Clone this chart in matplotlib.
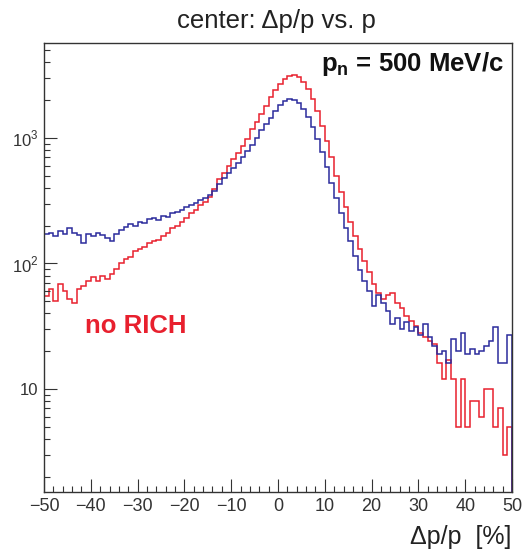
import numpy as np
import matplotlib
matplotlib.use('Agg')
import matplotlib.pyplot as plt
from matplotlib.ticker import FixedLocator, MultipleLocator, NullFormatter

plt.rcParams['font.family'] = ['Liberation Sans', 'DejaVu Sans']
plt.rcParams['mathtext.fontset'] = 'custom'
plt.rcParams['mathtext.rm'] = 'Liberation Sans'
plt.rcParams['mathtext.bf'] = 'Liberation Sans:bold'

# histogram binning: 100 bins of 1 % from -50 to 50
edges = np.arange(-50, 51, 1)

# "no RICH" (red)
red_counts = [55, 62, 50, 68, 60, 52, 48, 62, 66, 72,
              78, 72, 80, 75, 82, 90, 100, 108, 112, 125,
              130, 136, 145, 150, 155, 165, 175, 190, 200, 215,
              230, 250, 265, 290, 310, 340, 390, 470, 530, 600,
              680, 760, 860, 980, 1180, 1350, 1550, 1800, 2100, 2400,
              2700, 2950, 3100, 3150, 3050, 2800, 2450, 2050, 1650, 1250,
              950, 700, 500, 370, 280, 215, 165, 130, 105, 85,
              68, 58, 52, 56, 58, 48, 44, 38, 35, 32,
              28, 26, 24, 23, 16, 12, 17, 12, 5, 12,
              5, 8, 8, 6, 10, 10, 5, 7, 3, 5]

# with RICH (blue)
blue_counts = [170, 175, 165, 180, 172, 190, 175, 168, 145, 170,
               165, 175, 168, 160, 150, 170, 185, 195, 205, 200,
               215, 210, 225, 230, 222, 240, 235, 250, 255, 265,
               280, 290, 305, 320, 335, 350, 375, 430, 480, 530,
               580, 630, 700, 780, 870, 1000, 1150, 1300, 1450, 1650,
               1820, 1950, 2030, 2020, 1900, 1700, 1480, 1230, 980, 770,
               590, 440, 330, 250, 190, 150, 115, 88, 72, 60,
               46, 56, 48, 42, 33, 37, 30, 34, 29, 31,
               27, 33, 26, 22, 19, 20, 16, 25, 20, 28,
               19, 21, 19, 20, 22, 24, 31, 16, 16, 27]

fig = plt.figure(figsize=(5.26, 5.53), dpi=100)
ax = fig.add_axes([0.0837, 0.1103, 0.8897, 0.8119])

ax.stairs(red_counts, edges, color='#e8202e', lw=1.1)
ax.stairs(blue_counts, edges, color='#2b2b9c', lw=1.1)

ax.set_yscale('log')
ax.set_xlim(-50, 50)
ax.set_ylim(1.51, 5700)

ax.xaxis.set_major_locator(MultipleLocator(10))
ax.xaxis.set_minor_locator(MultipleLocator(2))
ax.yaxis.set_major_locator(FixedLocator([10, 100, 1000]))
ax.yaxis.set_minor_locator(FixedLocator(
    [m * 10**e for e in range(0, 4) for m in range(2, 10)]))
ax.yaxis.set_minor_formatter(NullFormatter())
ax.set_yticklabels(['10', r'$10^{2}$', r'$10^{3}$'])

ax.tick_params(which='both', direction='in', top=False, right=False,
               width=0.8, colors='#333333')
ax.tick_params(axis='x', labelsize=13)
ax.tick_params(axis='y', labelsize=12)
ax.tick_params(which='major', length=9.5, pad=4)
ax.tick_params(which='minor', length=4.5)
for sp in ax.spines.values():
    sp.set_color('#333333')
    sp.set_linewidth(1.0)

fig.text(0.525, 0.962, 'center: Δp/p vs. p', ha='center', va='center',
         fontsize=18.5, color='#222222')
ax.text(0.983, 0.985, r'$\mathbf{p}_{\mathbf{n}}$ = 500 MeV/c', transform=ax.transAxes,
        ha='right', va='top', fontsize=18.5, fontweight='bold', color='#111111')
ax.text(0.088, 0.37, 'no RICH', transform=ax.transAxes, ha='left', va='center',
        fontsize=18.5, fontweight='bold', color='#e8202e')
fig.text(0.973, 0.008, 'Δp/p  [%]', ha='right', va='bottom',
         fontsize=18, color='#222222')

fig.savefig('out.png', dpi=100)
